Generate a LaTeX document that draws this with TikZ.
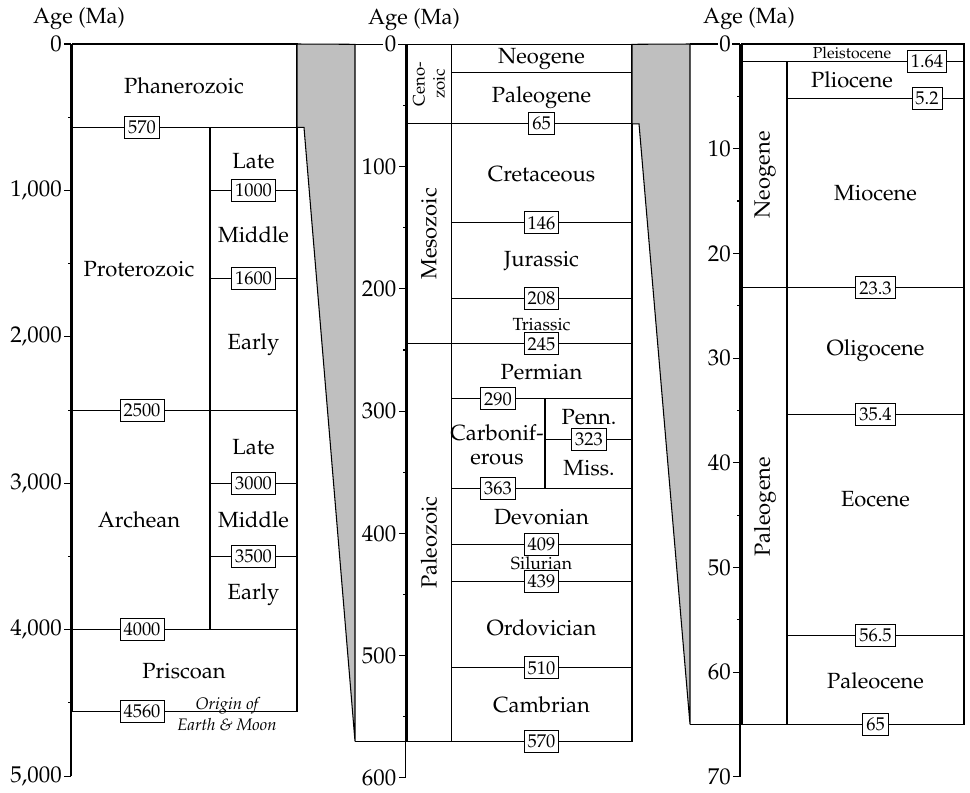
\documentclass[tikz,border=0pt]{standalone}
\usepackage[T1]{fontenc}
\usepackage{mathpazo}

\tikzset{
  unit/.style={font=\fontsize{12.5}{14}\selectfont},
  small unit/.style={font=\fontsize{10}{12}\selectfont},
  tiny unit/.style={font=\fontsize{9}{11}\selectfont},
  numbox/.style={draw, fill=white, line width=0.5pt, font=\fontsize{10.5}{12}\selectfont,
    inner xsep=2pt, inner ysep=1pt, minimum height=12.5pt},
  ticklbl/.style={font=\fontsize{13}{14}\selectfont, anchor=east, fill=white, inner sep=1pt},
  rule/.style={line width=0.6pt},
  wedge/.style={draw, fill=gray!50, line width=0.6pt}
}

\begin{document}
\begin{tikzpicture}[x=0.02cm, y=-0.02cm]
\useasboundingbox (0,0) rectangle (970,792);

% axis titles
\node[unit] (age1) at (79,19) {Age (Ma)};
\node[unit] (age2) at (414,20) {Age (Ma)};
\node[unit] (age3) at (749,19) {Age (Ma)};

% ---- panel 1: eons, 0-5000 Ma
\begin{scope}[shift={(0,44)}, y={(0,-0.0029332cm)}]
\coordinate (gA) at (297,0);
\coordinate (gE) at (297,570);
\coordinate (gD) at (304,570);
\draw[rule] (72.5,0) rectangle (297,4560);
\foreach \a in {570,2500,4000}
  \draw[rule] (72.5,\a) -- (297,\a);
\draw[rule] (210,570) -- (210,4000);
\foreach \a in {1000,1600,3000,3500}
  \draw[rule] (210,\a) -- (297,\a);
\draw[rule] (71,0) -- (71,5000);
\foreach \t in {500,1500,2500,3500,4500}
  \draw[rule] (71,\t) -- (68,\t);
\foreach \t/\lbl in {0/0,1000/{1,000},2000/{2,000},3000/{3,000},4000/{4,000},5000/{5,000}}
  \draw[rule] (71,\t) -- (64,\t) node[ticklbl] {\lbl};
\foreach \a/\x in {570/142,2500/142,4000/142,4560/142,1000/253.5,1600/253.5,3000/253.5,3500/253.5}
  \node[numbox] (eon\a) at (\x,\a) {\a};
\node[unit] (phan) at (184,285) {Phanerozoic};
\node[unit] (prot) at (139,1535) {Proterozoic};
\node[unit] (arch) at (139,3250) {Archean};
\node[unit] (prisc) at (184,4280) {Priscoan};
\node[unit] (plate) at (253.5,800) {Late};
\node[unit] (pmid) at (253.5,1300) {Middle};
\node[unit] (pearly) at (253.5,2050) {Early};
\node[unit] (alate) at (253.5,2750) {Late};
\node[unit] (amid) at (253.5,3250) {Middle};
\node[unit] (aearly) at (253.5,3760) {Early};
\node[align=center, font=\fontsize{9.5}{12}\selectfont\itshape] (origin) at (227,4578) {Origin of\\Earth \& Moon};
\end{scope}

% ---- panel 2: Phanerozoic, 0-600 Ma
\begin{scope}[shift={(0,44.3)}, y={(0,-0.024456cm)}]
\coordinate (gB) at (355,0);
\coordinate (gC) at (355,570);
\coordinate (hA) at (632,0);
\coordinate (hE) at (632,65);
\coordinate (hD) at (639,65);
\draw[rule] (gB) -- (405.5,0);
\draw[rule] (407,0) rectangle (632,570);
\draw[rule] (gC) -- (407,570);
\draw[rule] (451.5,0) -- (451.5,570);
\foreach \a in {65,245}
  \draw[rule] (407,\a) -- (632,\a);
\foreach \a in {23.3,146,208,290,363,409,439,510}
  \draw[rule] (451.5,\a) -- (632,\a);
\draw[rule] (545,290) -- (545,363);
\draw[rule] (545,323) -- (632,323);
\draw[rule] (405.5,0) -- (405.5,600);
\foreach \t in {50,150,...,550}
  \draw[rule] (405.5,\t) -- (402.5,\t);
\foreach \t in {0,100,...,600}
  \draw[rule] (405.5,\t) -- (398.5,\t) node[ticklbl] {\t};
\foreach \a/\x in {65/541.5,146/541.5,208/541.5,245/541.5,290/498,323/589,363/498,409/541.5,439/541.5,510/541.5,570/541.5}
  \node[numbox] (per\a) at (\x,\a) {\a};
\node[rotate=90, align=center, inner sep=0pt, font=\fontsize{9.5}{11.5}\selectfont] (ceno) at (429,32.5) {Ceno-\\zoic};
\node[unit, rotate=90] (meso) at (429,155) {Mesozoic};
\node[unit, rotate=90] (paleo) at (429,407.5) {Paleozoic};
\node[unit] (neog) at (541.5,11.6) {Neogene};
\node[unit] (paleog) at (541.5,44) {Paleogene};
\node[unit] (cret) at (541.5,106) {Cretaceous};
\node[unit] (jur) at (541.5,177) {Jurassic};
\node[small unit] (tri) at (541.5,229) {Triassic};
\node[unit] (perm) at (541.5,268) {Permian};
\node[align=center, font=\fontsize{12.5}{13.6}\selectfont] (carb) at (497,327.5) {Carbonif-\\erous};
\node[unit] (penn) at (589,305) {Penn.};
\node[unit] (miss) at (589,347) {Miss.};
\node[unit] (dev) at (541.5,387) {Devonian};
\node[small unit, inner sep=1pt] (sil) at (541.5,424.5) {Silurian};
\node[unit] (ord) at (541.5,477) {Ordovician};
\node[unit] (camb) at (541.5,540) {Cambrian};
\end{scope}

% ---- panel 3: Cenozoic, 0-70 Ma
\begin{scope}[shift={(0,44)}, y={(0,-0.2094cm)}]
\coordinate (hB) at (690,0);
\coordinate (hC) at (690,65);
\draw[rule] (hB) -- (740,0);
\draw[rule] (742,0) rectangle (964,65);
\draw[rule] (hC) -- (742,65);
\draw[rule] (787,1.64) -- (787,65);
\foreach \a in {1.64,23.3}
  \draw[rule] (742,\a) -- (964,\a);
\foreach \a in {5.2,35.4,56.5}
  \draw[rule] (787,\a) -- (964,\a);
\draw[rule] (740,0) -- (740,70);
\foreach \t in {5,15,...,65}
  \draw[rule] (740,\t) -- (737,\t);
\foreach \t in {0,10,...,70}
  \draw[rule] (740,\t) -- (733,\t) node[ticklbl] {\t};
\foreach \a/\x [count=\i] in {1.64/927,5.2/927,23.3/875.5,35.4/875.5,56.5/875.5,65/875.5}
  \node[numbox] (ep\i) at (\x,\a) {\a};
\node[tiny unit] (pleist) at (852,0.86) {Pleistocene};
\node[unit] (plio) at (852,3.4) {Pliocene};
\node[unit] (mio) at (875.5,14.2) {Miocene};
\node[unit] (oligo) at (875.5,29.3) {Oligocene};
\node[unit] (eoc) at (875.5,43.5) {Eocene};
\node[unit] (paleoc) at (875.5,60.8) {Paleocene};
\node[unit, rotate=90] (neo3) at (765,12.5) {Neogene};
\node[unit, rotate=90] (pal3) at (765,44.2) {Paleogene};
\end{scope}

% zoom wedges
\draw[wedge] (gA) -- (gB) -- (gC) -- (gD) -- (gE) -- cycle;
\draw[wedge] (hA) -- (hB) -- (hC) -- (hD) -- (hE) -- cycle;
\end{tikzpicture}
\end{document}
